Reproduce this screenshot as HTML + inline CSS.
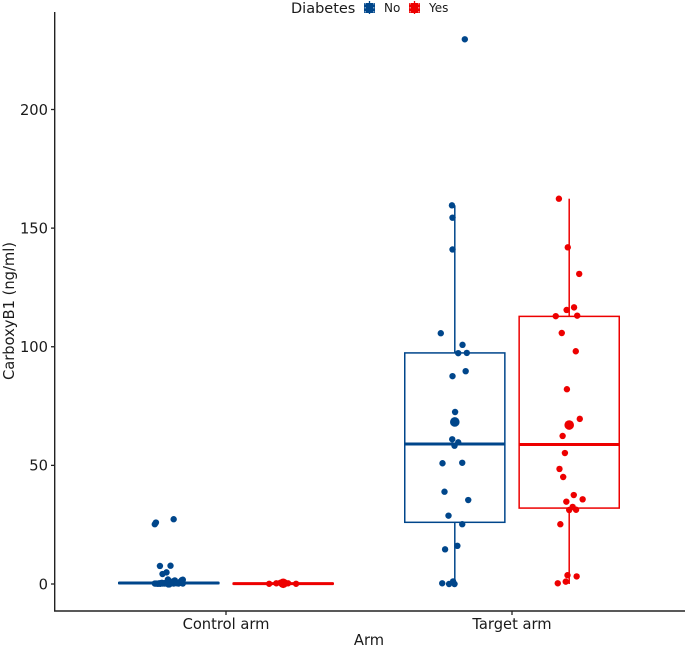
<!DOCTYPE html>
<html>
<head>
<meta charset="utf-8">
<style>
html,body{margin:0;padding:0;background:#fff;width:685px;height:648px;overflow:hidden}
svg{display:block}
text{font-family:"DejaVu Sans","Liberation Sans",sans-serif;fill:#1a1a1a}
</style>
</head>
<body>
<svg id="chart" width="685" height="648" viewBox="0 0 685 648" xmlns="http://www.w3.org/2000/svg">
  <g id="marks"></g>
  <g id="axes">
    <line x1="54.7" y1="12" x2="54.7" y2="611.5" stroke="#222" stroke-width="1.4"/>
    <line x1="54" y1="611" x2="685" y2="611" stroke="#222" stroke-width="1.4"/>
  </g>
  <text transform="translate(14,311) rotate(-90)" text-anchor="middle" font-size="14.7">CarboxyB1 (ng/ml)</text>
  <text x="369" y="645" text-anchor="middle" font-size="14.7">Arm</text>
  <g>
    <text x="291" y="13" font-size="14.5">Diabetes</text>
    <g>
      <rect x="364" y="3" width="11" height="10" fill="#00468B"/>
      <line x1="369.5" y1="1" x2="369.5" y2="14" stroke="#00468B" stroke-width="1.3"/>
      <line x1="365.2" y1="3" x2="365.2" y2="13" stroke="#a9c3dc" stroke-width="1" stroke-dasharray="1.5 2.5"/>
      <line x1="373.8" y1="3" x2="373.8" y2="13" stroke="#a9c3dc" stroke-width="1" stroke-dasharray="1.5 2.5"/>
    </g>
    <text x="384" y="12" font-size="12">No</text>
    <g>
      <rect x="409" y="3" width="11" height="10" fill="#ED0000"/>
      <line x1="414.5" y1="1" x2="414.5" y2="14" stroke="#ED0000" stroke-width="1.3"/>
      <line x1="410.2" y1="3" x2="410.2" y2="13" stroke="#f8b0b0" stroke-width="1" stroke-dasharray="1.5 2.5"/>
      <line x1="418.8" y1="3" x2="418.8" y2="13" stroke="#f8b0b0" stroke-width="1" stroke-dasharray="1.5 2.5"/>
    </g>
    <text x="429" y="12" font-size="12">Yes</text>
  </g>
<script>
// ---- data ----
const categories = ["Control arm", "Target arm"];
const yTicks = [0, 50, 100, 150, 200];
const boxLow = { controlNo: 0.2, controlYes: 0, targetNo: 26, targetYes: 32 };
const boxMedian = { controlNo: 0.4, controlYes: 0.15, targetNo: 59, targetYes: 58.8 };
const boxHigh = { controlNo: 0.6, controlYes: 0.3, targetNo: 97.4, targetYes: 112.8 };
const whiskerLow = { controlNo: 0, controlYes: 0, targetNo: 0, targetYes: 0 };
const whiskerHigh = { controlNo: 0.8, controlYes: 0.4, targetNo: 159.6, targetYes: 162.4 };
const meanValues = { controlNo: 0.5, controlYes: 0.3, targetNo: 68.3, targetYes: 67 };

const controlNoValues = [27.3,25.9,25.2,7.6,7.7,4.9,4.2,0.2,0.1,0.5,0.2,1.9,0.3,0.6,1.5,0.4,0.8,1.8,0.2,0.1,0.3,0.7,1.0,0.2,0.2,0.3,0.4,0.2,0.5,1.2,0.3,0.2,0.4,0.3,1.6,0.2];
const controlNoJitter = [.017,-.045,-.049,-.031,.006,-.008,-.022,-.049,-.038,-.024,-.014,-.003,.003,.010,.021,.028,.038,.049,-.042,-.030,-.018,-.006,.014,.034,-.046,-.034,-.027,-.021,-.011,.000,.006,.017,.024,.031,.045,.049];
const controlYesValues = [0.1,0.3,0.5,0.7,0.5,0.3,0.1,0.2];
const controlYesJitter = [-.049,-.024,-.010,-.001,.007,.017,.045,-.003];
const targetNoValues = [229.6,159.6,154.4,141,105.7,100.8,97.3,97.4,89.7,87.6,72.5,61,59.7,58.3,50.9,51.1,38.9,35.4,28.8,25.2,16.1,14.6,0.3,0,1.1,0];
const targetNoJitter = [.035,-.010,-.008,-.008,-.049,.027,.012,.042,.038,-.008,.001,-.009,.012,-.001,-.043,.026,-.036,.047,-.022,.026,.009,-.034,-.044,-.020,-.006,-.001];
const targetYesValues = [162.4,141.9,130.7,116.6,115.5,112.9,113.1,105.8,98.1,82.1,69.6,62.4,55.2,48.5,45.1,37.5,35.7,34.7,32.5,31.3,31.2,25.2,3.7,3.2,1,0.3];
const targetYesJitter = [-.036,-.005,.035,.017,-.009,-.047,.028,-.026,.023,-.008,.037,-.023,-.015,-.034,-.021,.016,.047,-.010,.012,.024,0,-.031,-.006,.026,-.012,-.040];

// ---- scales ----
const xScale = c => 226 + 286 * c;
const yScale = v => 584 - 2.3725 * v;
const dodge = 0.2;
const boxWidth = 0.35;
const colors = { No: "#00468B", Yes: "#ED0000" };
const NS = "http://www.w3.org/2000/svg";
const marks = document.getElementById("marks");
const axes = document.getElementById("axes");

function makeEl(tag, attrs, parent) {
  const el = document.createElementNS(NS, tag);
  for (const k in attrs) el.setAttribute(k, attrs[k]);
  parent.appendChild(el);
  return el;
}

function drawBox(key, cat, side, color) {
  const cx = xScale(cat + side * dodge);
  const half = 286 * boxWidth / 2;
  const g = makeEl("g", {}, marks);
  
  
  const wu = makeEl("line", { x1: cx, x2: cx, y1: yScale(boxHigh[key]), y2: yScale(whiskerHigh[key]), stroke: color, "stroke-width": 1.5 }, g);
  
  
  const wl = makeEl("line", { x1: cx, x2: cx, y1: yScale(boxLow[key]), y2: yScale(whiskerLow[key]), stroke: color, "stroke-width": 1.5 }, g);
  
  
  const r = makeEl("rect", { x: cx - half, width: half * 2, y: yScale(boxHigh[key]), height: yScale(boxLow[key]) - yScale(boxHigh[key]), fill: "none", stroke: color, "stroke-width": 1.5 }, g);
  
  
  const m = makeEl("line", { x1: cx - half, x2: cx + half, y1: yScale(boxMedian[key]), y2: yScale(boxMedian[key]), stroke: color, "stroke-width": 3 }, g);
  
  
}

function drawPoints(key, cat, side, color, values, jitter) {
  const g = makeEl("g", { fill: color }, marks);
  
  
  values.forEach((v, i) => {
    const c = makeEl("circle", { cx: xScale(cat + side * dodge + jitter[i]), cy: yScale(v), r: 3.2 }, g);
    
    
  });
  const mean = makeEl("circle", { cx: xScale(cat + side * dodge), cy: yScale(meanValues[key]), r: 4.8 }, g);
  
  
}

drawBox("controlNo", 0, -1, colors.No);
drawBox("controlYes", 0, 1, colors.Yes);
drawBox("targetNo", 1, -1, colors.No);
drawBox("targetYes", 1, 1, colors.Yes);
drawPoints("controlNo", 0, -1, colors.No, controlNoValues, controlNoJitter);
drawPoints("controlYes", 0, 1, colors.Yes, controlYesValues, controlYesJitter);
drawPoints("targetNo", 1, -1, colors.No, targetNoValues, targetNoJitter);
drawPoints("targetYes", 1, 1, colors.Yes, targetYesValues, targetYesJitter);

yTicks.forEach(t => {
  const y = yScale(t);
  const tick = makeEl("line", { x1: 51, x2: 54.7, y1: y, y2: y, stroke: "#222", "stroke-width": 1.3 }, axes);
  
  
  const label = makeEl("text", { x: 48, y: y + 5.3, "text-anchor": "end", "font-size": 14.7 }, axes);
  
  
  label.textContent = t;
});
categories.forEach((c, i) => {
  const x = xScale(i);
  const tick = makeEl("line", { x1: x, x2: x, y1: 611, y2: 615, stroke: "#222", "stroke-width": 1.3 }, axes);
  
  
  const label = makeEl("text", { x: x, y: 629, "text-anchor": "middle", "font-size": 14.7 }, axes);
  
  
  label.textContent = c;
});
</script>
</svg>
</body>
</html>
